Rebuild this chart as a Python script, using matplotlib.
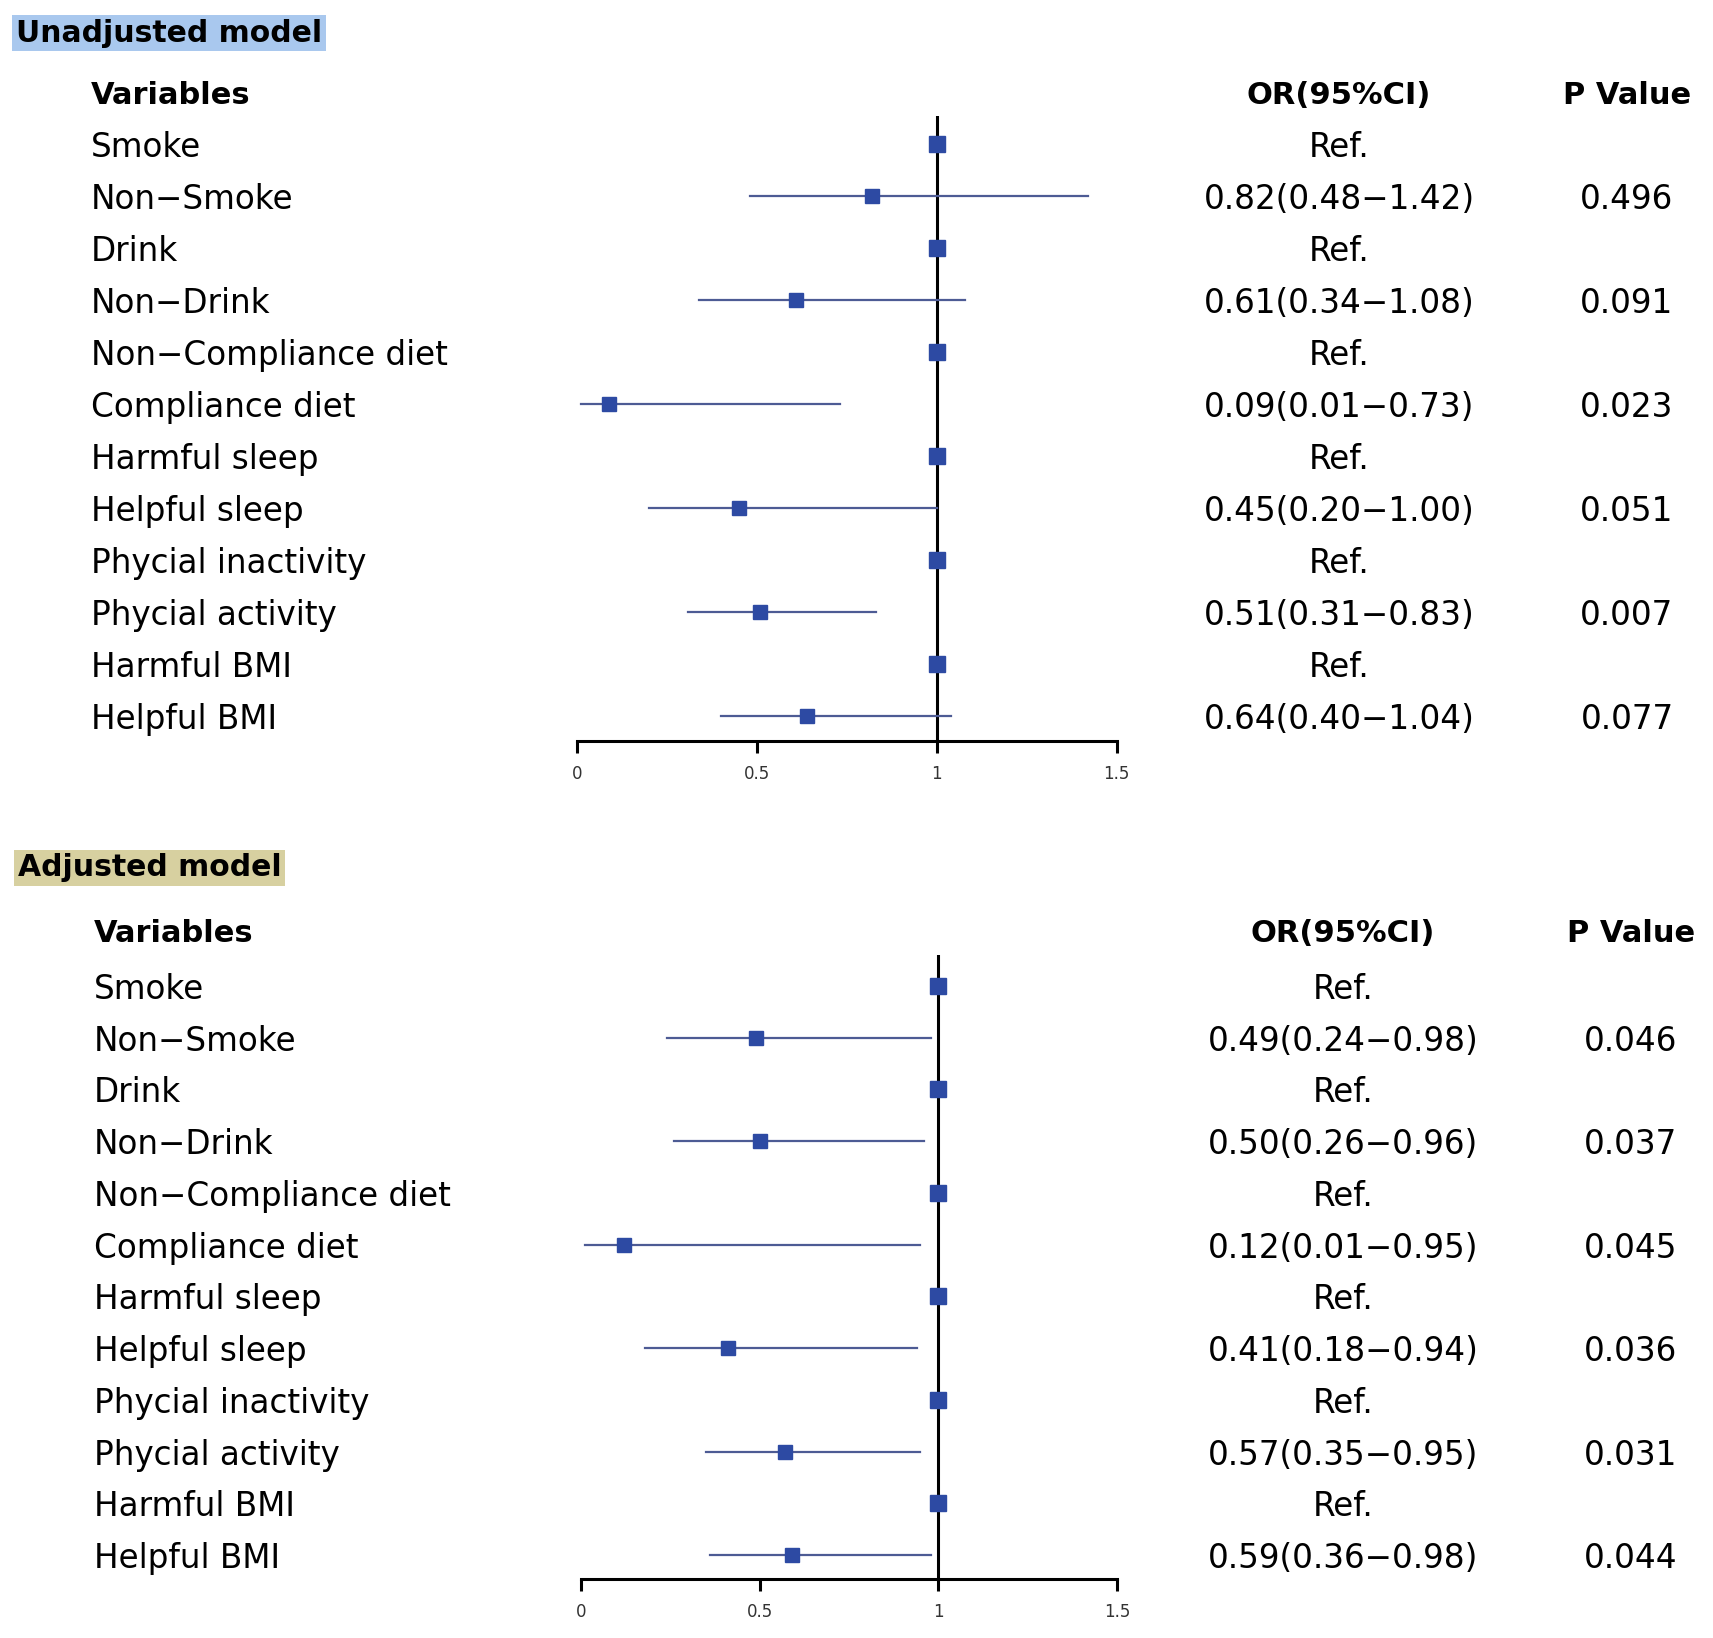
import matplotlib
matplotlib.use("Agg")
import matplotlib.pyplot as plt

plt.rcParams['font.family'] = ['DejaVu Sans']

# ---------------- data ----------------
variables = ["Smoke", "Non\u2212Smoke", "Drink", "Non\u2212Drink",
             "Non\u2212Compliance diet", "Compliance diet",
             "Harmful sleep", "Helpful sleep",
             "Phycial inactivity", "Phycial activity",
             "Harmful BMI", "Helpful BMI"]
is_ref = [True, False, True, False, True, False, True, False, True, False, True, False]

unadj_or = [1, 0.82, 1, 0.61, 1, 0.09, 1, 0.45, 1, 0.51, 1, 0.64]
unadj_lo = [None, 0.48, None, 0.34, None, 0.01, None, 0.20, None, 0.31, None, 0.40]
unadj_hi = [None, 1.42, None, 1.08, None, 0.73, None, 1.00, None, 0.83, None, 1.04]
unadj_p = ["", "0.496", "", "0.091", "", "0.023", "", "0.051", "", "0.007", "", "0.077"]

adj_or = [1, 0.49, 1, 0.50, 1, 0.12, 1, 0.41, 1, 0.57, 1, 0.59]
adj_lo = [None, 0.24, None, 0.26, None, 0.01, None, 0.18, None, 0.35, None, 0.36]
adj_hi = [None, 0.98, None, 0.96, None, 0.95, None, 0.94, None, 0.95, None, 0.98]
adj_p = ["", "0.046", "", "0.037", "", "0.045", "", "0.036", "", "0.031", "", "0.044"]

xticks = [0, 0.5, 1, 1.5]
xtick_labels = ["0", "0.5", "1", "1.5"]

# ---------------- layout ----------------
W, H = 1713, 1638
fig = plt.figure(figsize=(W / 100, H / 100), dpi=100)
fig.patch.set_facecolor("white")

MARKER_C = "#2d4aa3"
LINE_C = "#4d5b94"
ROW_FS = 23.5
HEAD_FS = 22


def fx(px):
    return px / W


def fy(py):
    return 1 - py / H


def panel(title, title_col, title_x, title_y, ax_left, ax_right, ax_top, ax_bottom,
          row0, step, head_y, label_x, or_x, p_x, orv, lo, hi, pv):
    # title
    fig.text(fx(title_x), fy(title_y), title, fontsize=21.5, fontweight="bold",
             va="center", ha="left",
             bbox=dict(boxstyle="square,pad=0.12", fc=title_col, ec="none"))
    # axes
    ax = fig.add_axes([fx(ax_left), fy(ax_bottom), (ax_right - ax_left) / W,
                       (ax_bottom - ax_top) / H])
    ax.set_xlim(0, 1.5)
    ytop = -(row0 - ax_top) / step
    ybot = (ax_bottom - row0) / step
    ax.set_ylim(ybot, ytop)
    for s in ["top", "right", "left"]:
        ax.spines[s].set_visible(False)
    ax.spines["bottom"].set_linewidth(2.2)
    ax.set_yticks([])
    ax.set_xticks(xticks)
    ax.set_xticklabels(xtick_labels, fontsize=12, color="#333333")
    ax.tick_params(axis="x", direction="out", length=8.5, width=2.2, pad=9)
    ax.patch.set_alpha(0)
    ax.axvline(1, color="black", lw=2.2, zorder=2)
    for i in range(len(variables)):
        if is_ref[i]:
            ax.plot([orv[i]], [i], marker="s", ms=11, color=MARKER_C, mec=MARKER_C, zorder=4)
        else:
            ax.plot([lo[i], hi[i]], [i, i], color=LINE_C, lw=1.6, zorder=3)
            ax.plot([orv[i]], [i], marker="s", ms=9.5, color=MARKER_C, mec=MARKER_C, zorder=4)
    # headers
    fig.text(fx(label_x), fy(head_y), "Variables", fontsize=HEAD_FS, fontweight="bold",
             ha="left", va="center_baseline")
    fig.text(fx(or_x), fy(head_y), "OR(95%CI)", fontsize=HEAD_FS, fontweight="bold",
             ha="center", va="center_baseline")
    fig.text(fx(p_x), fy(head_y), "P Value", fontsize=HEAD_FS, fontweight="bold",
             ha="center", va="center_baseline")
    # rows
    for i, name in enumerate(variables):
        yy = row0 + i * step
        fig.text(fx(label_x), fy(yy), name, fontsize=ROW_FS, ha="left", va="center_baseline")
        if is_ref[i]:
            ortxt = "Ref."
        else:
            ortxt = f"{orv[i]:.2f}({lo[i]:.2f}\u2212{hi[i]:.2f})"
        fig.text(fx(or_x), fy(yy), ortxt, fontsize=ROW_FS, ha="center", va="center_baseline")
        if pv[i]:
            fig.text(fx(p_x), fy(yy), pv[i], fontsize=ROW_FS, ha="center", va="center_baseline")
    return ax


panel("Unadjusted model", "#a9c8ee", 16, 33, 577, 1116.5, 116, 741,
      144, 51.96, 93, 91, 1339, 1627, unadj_or, unadj_lo, unadj_hi, unadj_p)
panel("Adjusted model", "#d7d0a0", 18, 868, 581, 1117, 955, 1579,
      986, 51.73, 931, 94, 1343, 1631, adj_or, adj_lo, adj_hi, adj_p)

fig.savefig("out.png", dpi=100, facecolor="white")
